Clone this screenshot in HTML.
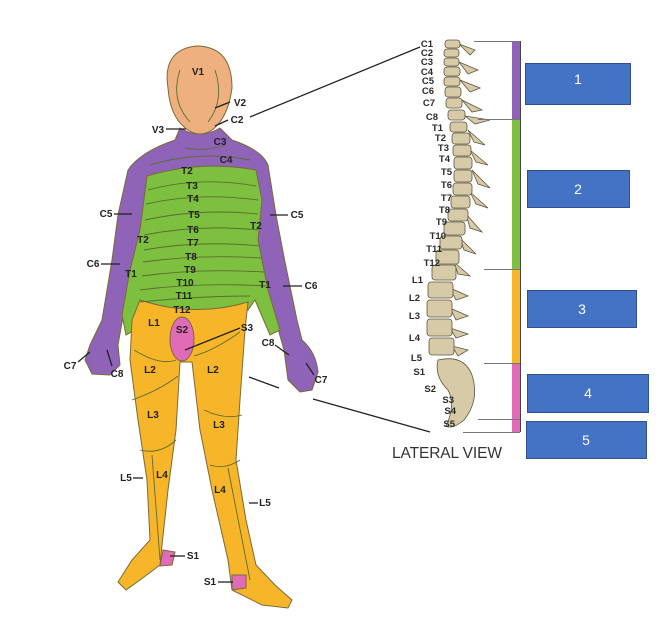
<!DOCTYPE html>
<html><head><meta charset="utf-8"><style>
html,body{margin:0;padding:0;background:#fff;}
svg{display:block;}
.l{font-family:"Liberation Sans",sans-serif;font-weight:bold;font-size:10px;fill:#222;}
.s{font-family:"Liberation Sans",sans-serif;font-weight:bold;font-size:9.5px;fill:#2a2a2a;}
.b{font-family:"Liberation Sans",sans-serif;font-size:14px;fill:#fff;}
</style></head><body>
<svg width="672" height="618" viewBox="0 0 672 618" xmlns="http://www.w3.org/2000/svg">
<g stroke="#7a6a3a" stroke-width="1">
<path d="M180 128 Q200 140 220 128 L232 140 Q262 150 268 165 L276 215 L285 262 L297 320 L302 340 Q316 352 318 372 L312 390 L300 392 L288 380 L284 350 L270 300 L258 252 L255 200 L145 200 L140 250 L126 300 L118 345 L120 365 L110 375 L92 374 L85 360 L90 345 L102 320 L112 260 L118 215 L128 170 Q140 152 175 140 Z" fill="#8e63b8"/>
<path d="M147 176 Q200 160 256 170 L262 200 L258 240 L268 290 L280 330 L270 335 L255 300 L248 310 Q200 320 140 308 L135 330 L126 335 L122 315 L130 270 L140 230 Z" fill="#7dbf3f"/>
<path d="M140 300 Q195 318 248 302 L245 330 L240 400 L236 460 L246 520 L256 565 L275 585 L292 600 L288 608 L262 605 L232 590 L228 560 L212 490 L200 430 L192 362 L180 362 L176 430 L168 490 L162 545 L160 565 L140 580 L126 590 L118 582 L132 560 L150 540 L147 480 L138 420 L130 360 L132 320 Z" fill="#f7b52a"/>
<ellipse cx="182" cy="339" rx="12" ry="22" fill="#e06cb7"/>
<path d="M163 550 L175 552 L172 565 L160 566 Z" fill="#e06cb7"/>
<path d="M232 575 L246 575 L246 588 L232 590 Z" fill="#e06cb7"/>
<path d="M168 88 Q162 50 196 46 Q232 46 232 88 Q228 118 212 130 Q200 138 188 130 Q170 118 168 88 Z" fill="#efb07f"/>
</g>
<g fill="none" stroke="#5a6e30" stroke-width="0.9">
<path d="M148 190 Q200 176 256 186"/><path d="M146 204 Q200 192 258 200"/><path d="M145 220 Q200 208 258 214"/>
<path d="M144 235 Q200 224 258 230"/><path d="M144 250 Q200 240 260 246"/><path d="M143 262 Q200 254 262 258"/>
<path d="M142 276 Q200 268 264 272"/><path d="M140 290 Q200 282 266 286"/><path d="M140 302 Q200 296 250 296"/>
<path d="M134 350 Q160 366 176 360"/><path d="M194 356 Q215 350 240 332"/><path d="M132 400 Q160 390 178 376"/>
<path d="M204 410 Q225 420 242 415"/><path d="M140 450 Q160 455 176 440"/><path d="M210 465 Q225 470 240 460"/>
<path d="M152 455 L160 560"/><path d="M228 468 L250 580"/>
<path d="M150 165 Q200 150 250 160"/><path d="M185 148 Q205 152 225 145"/>
<path d="M180 70 Q170 100 190 122"/><path d="M215 70 Q225 100 208 122"/>
</g>
<g stroke="#222" stroke-width="1.3">
<line x1="250" y1="117" x2="420" y2="47"/>
<line x1="249" y1="377" x2="279" y2="388"/><line x1="313" y1="399" x2="430" y2="432"/>
<line x1="166" y1="129" x2="186" y2="129"/><line x1="215" y1="108" x2="230" y2="102"/><line x1="215" y1="126" x2="228" y2="120"/>
<line x1="114" y1="214" x2="132" y2="214"/><line x1="270" y1="215" x2="288" y2="215"/>
<line x1="101" y1="264" x2="120" y2="264"/><line x1="283" y1="286" x2="302" y2="286"/>
<line x1="185" y1="350" x2="240" y2="328"/><line x1="78" y1="362" x2="90" y2="352"/>
<line x1="112" y1="366" x2="107" y2="350"/><line x1="275" y1="345" x2="289" y2="355"/>
<line x1="306" y1="363" x2="314" y2="375"/><line x1="133" y1="478" x2="143" y2="478"/>
<line x1="249" y1="503" x2="258" y2="503"/><line x1="170" y1="556" x2="185" y2="556"/><line x1="218" y1="582" x2="233" y2="582"/>
</g>
<g class="l" text-anchor="middle">
<text x="198" y="75">V1</text><text x="240" y="106">V2</text><text x="158" y="133">V3</text><text x="237" y="123">C2</text>
<text x="220" y="145">C3</text><text x="226" y="163">C4</text><text x="187" y="174">T2</text><text x="192" y="189">T3</text>
<text x="193" y="202">T4</text><text x="194" y="218">T5</text><text x="193" y="233">T6</text><text x="193" y="246">T7</text>
<text x="191" y="260">T8</text><text x="190" y="273">T9</text><text x="185" y="286">T10</text><text x="184" y="299">T11</text>
<text x="182" y="313">T12</text><text x="106" y="217">C5</text><text x="297" y="218">C5</text><text x="143" y="243">T2</text>
<text x="256" y="229">T2</text><text x="93" y="267">C6</text><text x="311" y="289">C6</text><text x="131" y="277">T1</text>
<text x="265" y="288">T1</text><text x="154" y="326">L1</text><text x="182" y="333">S2</text><text x="247" y="331">S3</text>
<text x="70" y="369">C7</text><text x="117" y="377">C8</text><text x="268" y="346">C8</text><text x="321" y="383">C7</text>
<text x="150" y="373">L2</text><text x="213" y="373">L2</text><text x="153" y="418">L3</text><text x="219" y="428">L3</text>
<text x="162" y="478">L4</text><text x="220" y="493">L4</text><text x="126" y="481">L5</text><text x="265" y="506">L5</text>
<text x="193" y="559">S1</text><text x="210" y="585">S1</text>
</g>
<g fill="#d6cba6" stroke="#5e5640" stroke-width="0.8">
<path d="M459 44 L475 50 L470 55 Z"/><path d="M459 62 L478 70 L468 74 Z"/><path d="M460 80 L480 88 L470 92 Z"/><path d="M462 100 L482 110 L472 112 Z"/>
<path d="M465 116 L490 120 L475 124 Z"/><path d="M468 130 L485 145 L474 142 Z"/><path d="M470 150 L488 165 L476 162 Z"/><path d="M472 170 L490 188 L478 184 Z"/>
<path d="M470 192 L488 208 L476 204 Z"/><path d="M466 214 L482 232 L470 228 Z"/><path d="M460 238 L476 254 L464 250 Z"/><path d="M454 262 L470 276 L458 274 Z"/>
<path d="M450 288 L468 296 L456 300 Z"/><path d="M450 308 L468 316 L456 320 Z"/><path d="M450 328 L468 334 L456 338 Z"/><path d="M452 346 L468 350 L458 356 Z"/>
<rect x="445" y="40" width="15" height="8" rx="3"/><rect x="444" y="49" width="15" height="8" rx="3"/><rect x="444" y="58" width="15" height="8" rx="3"/>
<rect x="444" y="67" width="16" height="9" rx="3"/><rect x="444" y="77" width="16" height="9" rx="3"/><rect x="445" y="87" width="16" height="10" rx="3"/>
<rect x="446" y="98" width="16" height="10" rx="3"/><rect x="448" y="110" width="17" height="10" rx="3"/>
<rect x="450" y="122" width="17" height="10" rx="3"/><rect x="452" y="133" width="18" height="11" rx="3"/><rect x="453" y="145" width="18" height="11" rx="3"/>
<rect x="454" y="157" width="18" height="12" rx="3"/><rect x="454" y="170" width="18" height="12" rx="3"/><rect x="453" y="183" width="19" height="12" rx="3"/>
<rect x="451" y="196" width="19" height="12" rx="3"/><rect x="448" y="209" width="20" height="12" rx="3"/><rect x="444" y="222" width="21" height="13" rx="3"/>
<rect x="440" y="236" width="22" height="13" rx="3"/><rect x="436" y="250" width="23" height="14" rx="3"/><rect x="432" y="265" width="24" height="15" rx="3"/>
<rect x="428" y="282" width="25" height="16" rx="3"/><rect x="427" y="300" width="25" height="17" rx="3"/><rect x="427" y="319" width="25" height="17" rx="3"/>
<rect x="429" y="338" width="25" height="17" rx="3"/>
<path d="M438 360 Q464 354 472 375 Q480 400 464 420 Q452 430 446 426 Q456 405 448 390 Q434 376 438 360 Z"/>
</g>
<g class="s" text-anchor="end">
<text x="433" y="47">C1</text><text x="433" y="56">C2</text><text x="433" y="65">C3</text><text x="433" y="75">C4</text>
<text x="434" y="84">C5</text><text x="434" y="94">C6</text><text x="435" y="106">C7</text><text x="438" y="120">C8</text>
<text x="443" y="131">T1</text><text x="446" y="141">T2</text><text x="449" y="151">T3</text><text x="450" y="162">T4</text>
<text x="452" y="175">T5</text><text x="452" y="188">T6</text><text x="452" y="201">T7</text><text x="450" y="213">T8</text>
<text x="447" y="225">T9</text><text x="446" y="239">T10</text><text x="442" y="252">T11</text><text x="440" y="266">T12</text>
<text x="423" y="283">L1</text><text x="420" y="301">L2</text><text x="420" y="319">L3</text><text x="420" y="341">L4</text>
<text x="422" y="361">L5</text><text x="425" y="375">S1</text><text x="436" y="392">S2</text><text x="454" y="403">S3</text>
<text x="456" y="414">S4</text><text x="455" y="427">S5</text>
</g>
<rect x="512" y="41" width="8" height="78" fill="#8e63b8"/>
<rect x="512" y="119" width="8" height="150" fill="#7dbf3f"/>
<rect x="512" y="269" width="8" height="94" fill="#f7b52a"/>
<rect x="512" y="363" width="8" height="69" fill="#e06cb7"/>
<line x1="520.5" y1="41" x2="520.5" y2="432" stroke="#444" stroke-width="1"/>
<g stroke="#777" stroke-width="1">
<line x1="474" y1="41.5" x2="520" y2="41.5"/><line x1="478" y1="119.5" x2="520" y2="119.5"/><line x1="484" y1="269.5" x2="520" y2="269.5"/>
<line x1="484" y1="363.5" x2="520" y2="363.5"/><line x1="478" y1="419.5" x2="520" y2="419.5"/><line x1="463" y1="432.5" x2="520" y2="432.5"/>
</g>
<text x="392" y="458" font-family="Liberation Sans,sans-serif" font-size="15.5" fill="#333" textLength="110">LATERAL VIEW</text>
<g fill="#4472c4" stroke="#2f528f" stroke-width="1">
<rect x="525.5" y="63.5" width="105" height="41"/><rect x="527.5" y="170.5" width="102" height="37"/>
<rect x="527.5" y="290.5" width="109" height="37"/><rect x="527.5" y="374.5" width="121" height="38"/>
<rect x="526.5" y="421.5" width="120" height="37"/>
</g>
<g class="b" text-anchor="middle">
<text x="578" y="84">1</text><text x="578" y="194">2</text><text x="582" y="314">3</text><text x="588" y="398">4</text><text x="586" y="445">5</text>
</g>
</svg>
</body></html>
